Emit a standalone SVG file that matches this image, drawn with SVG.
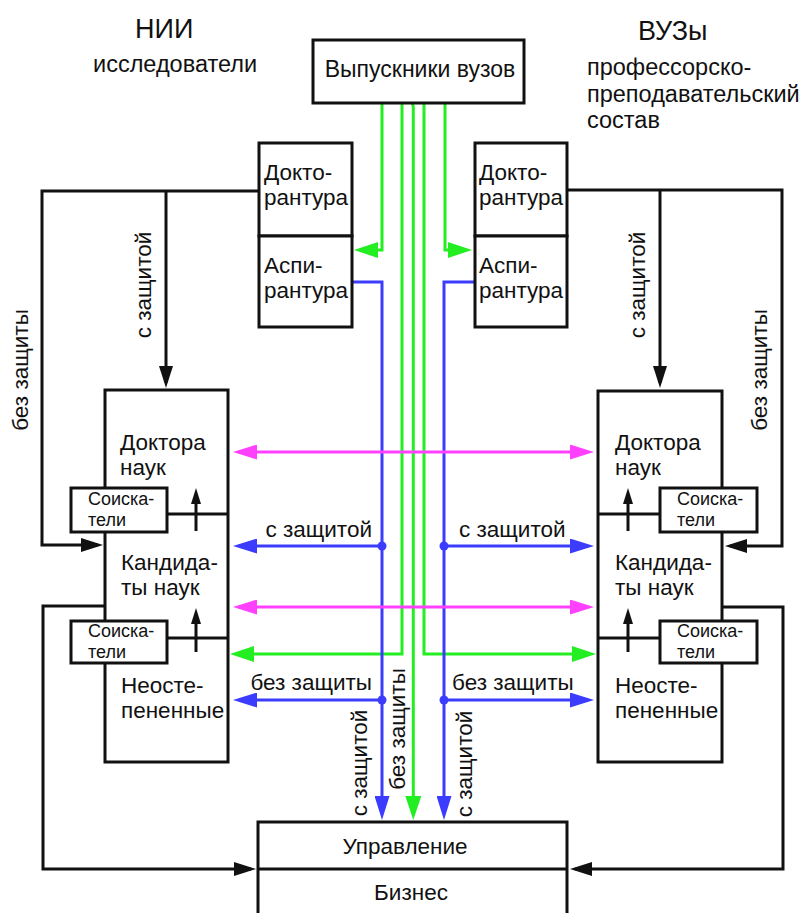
<svg xmlns="http://www.w3.org/2000/svg" width="801" height="913" viewBox="0 0 801 913">
<style>
text{font-family:"Liberation Sans",Arial,sans-serif;font-size:22.5px;fill:#111}
.hdr{font-size:27px}
.sub{font-size:23.5px}
.sm{font-size:18px}
.box{fill:#fff;stroke:#111;stroke-width:3}
.ln{fill:none;stroke:#111;stroke-width:3}
.k{fill:none;stroke:#111;stroke-width:3;marker-end:url(#aK)}
.g{fill:none;stroke:#22ee22;stroke-width:3;marker-end:url(#aG)}
.ba{fill:none;stroke:#3c3cff;stroke-width:3;marker-end:url(#aB)}
.m{fill:none;stroke:#ff40ff;stroke-width:3;marker-start:url(#aM);marker-end:url(#aM)}
</style>
<defs>
<marker id="aK" viewBox="0 0 22 14" refX="17" refY="7" markerWidth="22" markerHeight="14" markerUnits="userSpaceOnUse" orient="auto"><path d="M0,0 L22,7 L0,14 z" fill="#111"/></marker>
<marker id="aG" viewBox="0 0 24 16" refX="18" refY="8" markerWidth="24" markerHeight="16" markerUnits="userSpaceOnUse" orient="auto"><path d="M0,0 L24,8 L0,16 z" fill="#22ee22"/></marker>
<marker id="aB" viewBox="0 0 24 15" refX="18" refY="7.5" markerWidth="24" markerHeight="15" markerUnits="userSpaceOnUse" orient="auto"><path d="M0,0 L24,7.5 L0,15 z" fill="#3c3cff"/></marker>
<marker id="aM" viewBox="0 0 24 15" refX="18" refY="7.5" markerWidth="24" markerHeight="15" markerUnits="userSpaceOnUse" orient="auto-start-reverse"><path d="M0,0 L24,7.5 L0,15 z" fill="#ff40ff"/></marker>
</defs>

<g id="headers">
<text class="hdr" x="135" y="38">НИИ</text>
<text class="sub" x="93" y="72">исследователи</text>
<text class="hdr" x="638" y="40">ВУЗы</text>
<text class="sub" x="587" y="75">профессорско-</text>
<text class="sub" x="587" y="101.7">преподавательский</text>
<text class="sub" x="587" y="128.3">состав</text>
</g>

<g id="connectors">
<path class="k" d="M259,191 H42 V545 H98"/>
<path class="k" d="M166,191 V383"/>
<path class="k" d="M105,606 H43 V869 H251"/>
<path class="k" d="M567,190 H782 V546 H730"/>
<path class="k" d="M660,190 V383"/>
<path class="k" d="M722,607 H783 V869 H575"/>
<path class="g" d="M382,103 V250 H360"/>
<path class="g" d="M402,103 V654 H236"/>
<path class="g" d="M411.5,103 Q413.3,104 413.3,108 V814"/>
<path class="g" d="M424,103 V654 H590"/>
<path class="g" d="M445,103 V250 H466"/>
<path class="ba" d="M352,282 H382 V814"/>
<path class="ba" d="M475,282 H444 V814"/>
<path class="ba" d="M382,546 H239"/>
<path class="ba" d="M444,546 H588"/>
<path class="ba" d="M382,700 H239"/>
<path class="ba" d="M444,700 H588"/>
<circle cx="382" cy="546" r="4.5" fill="#3c3cff"/>
<circle cx="444" cy="546" r="4.5" fill="#3c3cff"/>
<circle cx="382" cy="700" r="4.5" fill="#3c3cff"/>
<circle cx="444" cy="700" r="4.5" fill="#3c3cff"/>
<path class="m" d="M239,452 H588"/>
<path class="m" d="M239,607 H588"/>
<text transform="translate(28,370) rotate(-90)" text-anchor="middle">без защиты</text>
<text transform="translate(151,285) rotate(-90)" text-anchor="middle">с защитой</text>
<text transform="translate(645,285) rotate(-90)" text-anchor="middle">с защитой</text>
<text transform="translate(767,370) rotate(-90)" text-anchor="middle">без защиты</text>
<text x="372" y="537" text-anchor="end">с защитой</text>
<text x="459" y="537">с защитой</text>
<text x="372" y="690" text-anchor="end">без защиты</text>
<text x="452" y="690">без защиты</text>
<text transform="translate(367,763) rotate(-90)" text-anchor="middle">с защитой</text>
<text transform="translate(405,729) rotate(-90)" text-anchor="middle">без защиты</text>
<text transform="translate(472,764) rotate(-90)" text-anchor="middle">с защитой</text>
</g>

<g id="vypuskniki">
<rect class="box" x="313" y="40" width="211" height="63"/>
<text x="420" y="77" text-anchor="middle" style="font-size:23px">Выпускники вузов</text>
</g>

<g id="nii-doktorantura">
<rect class="box" x="259" y="143" width="93" height="93"/>
<text x="264" y="180">Докто-</text>
<text x="264" y="205">рантура</text>
</g>
<g id="nii-aspirantura">
<rect class="box" x="259" y="236" width="93" height="91"/>
<text x="264" y="273">Аспи-</text>
<text x="264" y="298">рантура</text>
</g>
<g id="vuz-doktorantura">
<rect class="box" x="475" y="143" width="92" height="93"/>
<text x="479" y="180">Докто-</text>
<text x="479" y="205">рантура</text>
</g>
<g id="vuz-aspirantura">
<rect class="box" x="475" y="236" width="92" height="91"/>
<text x="479" y="273">Аспи-</text>
<text x="479" y="298">рантура</text>
</g>

<g id="nii-uchenye">
<rect class="box" x="105" y="390" width="123" height="372"/>
<line class="ln" x1="105" y1="514" x2="228" y2="514"/>
<line class="ln" x1="105" y1="638" x2="228" y2="638"/>
<text x="120" y="450">Доктора</text>
<text x="120" y="475">наук</text>
<text x="121" y="570">Кандида-</text>
<text x="121" y="595">ты наук</text>
<text x="121" y="693">Неосте-</text>
<text x="121" y="718">пененные</text>
<line class="ln" x1="196" y1="531" x2="196" y2="500"/>
<path d="M196,488 L201,504 L191,504 z" fill="#111"/>
<line class="ln" x1="196" y1="652" x2="196" y2="620"/>
<path d="M196,608 L201,624 L191,624 z" fill="#111"/>
</g>
<g id="nii-soiskateli-1">
<rect class="box" x="71" y="488" width="96" height="44"/>
<text class="sm" x="88" y="505">Соиска-</text>
<text class="sm" x="88" y="526">тели</text>
</g>
<g id="nii-soiskateli-2">
<rect class="box" x="71" y="621" width="96" height="42"/>
<text class="sm" x="88" y="637">Соиска-</text>
<text class="sm" x="88" y="658">тели</text>
</g>

<g id="vuz-uchenye">
<rect class="box" x="598" y="391" width="124" height="371"/>
<line class="ln" x1="598" y1="514" x2="722" y2="514"/>
<line class="ln" x1="598" y1="638" x2="722" y2="638"/>
<text x="615" y="450">Доктора</text>
<text x="615" y="475">наук</text>
<text x="615" y="570">Кандида-</text>
<text x="615" y="595">ты наук</text>
<text x="615" y="693">Неосте-</text>
<text x="615" y="718">пененные</text>
<line class="ln" x1="628" y1="531" x2="628" y2="500"/>
<path d="M628,488 L633,504 L623,504 z" fill="#111"/>
<line class="ln" x1="628" y1="652" x2="628" y2="620"/>
<path d="M628,608 L633,624 L623,624 z" fill="#111"/>
</g>
<g id="vuz-soiskateli-1">
<rect class="box" x="660" y="488" width="97" height="44"/>
<text class="sm" x="677" y="505">Соиска-</text>
<text class="sm" x="677" y="526">тели</text>
</g>
<g id="vuz-soiskateli-2">
<rect class="box" x="660" y="621" width="97" height="42"/>
<text class="sm" x="677" y="637">Соиска-</text>
<text class="sm" x="677" y="658">тели</text>
</g>

<g id="upravlenie-biznes">
<rect class="box" x="258" y="822" width="309" height="100"/>
<line class="ln" x1="258" y1="869" x2="567" y2="869"/>
<text x="405" y="854" text-anchor="middle">Управление</text>
<text x="411" y="900" text-anchor="middle">Бизнес</text>
</g>
</svg>
